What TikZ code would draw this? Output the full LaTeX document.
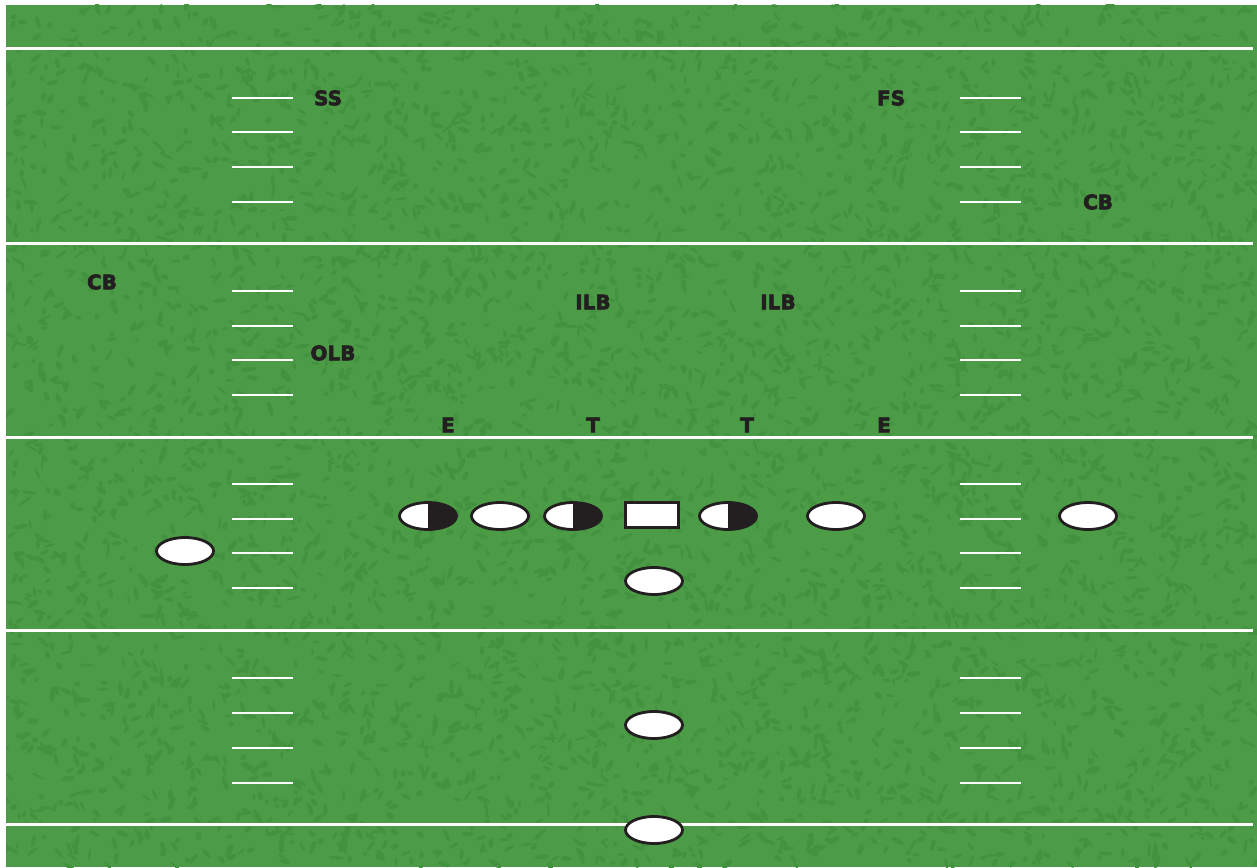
\documentclass[tikz,border=0pt]{standalone}
\usepackage{fontspec}
\setmainfont{DejaVu Sans}
\newfontfamily\heavy[FakeBold=3]{DejaVu Sans Bold}
\usetikzlibrary{shapes.geometric}
\definecolor{Turf}{HTML}{4B9B47}
\definecolor{TurfDark}{HTML}{43923F}
\definecolor{Ink}{HTML}{231F20}
\definecolor{Chalk}{HTML}{FFFFFF}
\tikzset{
  yard/.style={draw=Chalk,line width=3pt},
  hash/.style={draw=Chalk,line width=1.6pt},
  slot/.style={font=\heavy\fontsize{20}{24}\selectfont,text=Ink,inner sep=0pt},
  man/.style={ellipse,draw=Ink,fill=white,line width=2.8pt,minimum width=57pt,minimum height=27pt,inner sep=0pt},
  dman/.style={man,path picture={\fill[Ink] (path picture bounding box.north) rectangle (path picture bounding box.south east);}},
  snap/.style={rectangle,draw=Ink,fill=white,line width=2.8pt,minimum width=53pt,minimum height=25pt,inner sep=0pt},
}
\begin{document}
\begin{tikzpicture}[x=1pt,y=-1pt]
\useasboundingbox (0,0) rectangle (1257,867);
% -turf-
\fill[Turf] (6,5) rectangle (1257,867);
\begin{scope}
\clip (6,5) rectangle (1257,867);
\pgfmathsetseed{731}
\foreach \i in {1,...,5200}{
  \pgfmathsetmacro{\bx}{6+1251*rnd}
  \pgfmathsetmacro{\by}{5+862*rnd}
  \pgfmathsetmacro{\ra}{2.5+5*rnd}
  \pgfmathsetmacro{\rb}{1.2+1.6*rnd}
  \pgfmathsetmacro{\rt}{360*rnd}
  \fill[TurfDark,rotate around={\rt:(\bx,\by)}] (\bx,\by) ellipse[x radius=\ra,y radius=\rb];
}
\end{scope}
% -lines-
\foreach \y in {49,243,437,630,824}{\draw[yard] (6,\y) -- (1253,\y);}
\foreach \y in {98,132,167,202,291,326,360,395,484,519,553,588,678,713,748,783}{
  \draw[hash] (232,\y) -- (293,\y);
  \draw[hash] (960,\y) -- (1021,\y);
}
% -defense-
\node[slot] (ss) at (328,98) {SS};
\node[slot] (fs) at (891,98) {FS};
\node[slot] (cbr) at (1098,202) {CB};
\node[slot] (cbl) at (102,282) {CB};
\node[slot] (ilbl) at (593,302) {ILB};
\node[slot] (ilbr) at (778,302) {ILB};
\node[slot] (olb) at (333,353) {OLB};
\node[slot] (el) at (448,425) {E};
\node[slot] (tl) at (593,425) {T};
\node[slot] (tr) at (747,425) {T};
\node[slot] (er) at (884,425) {E};
% -offense-
\node[dman] (lt) at (428,516) {};
\node[man] (lg) at (500,516) {};
\node[dman] (lg2) at (573,516) {};
\node[snap] (c) at (652,515) {};
\node[dman] (rg) at (728,516) {};
\node[man] (te) at (836,516) {};
\node[man] (wr) at (1088,516) {};
\node[man] (se) at (185,551) {};
\node[man] (qb) at (654,581) {};
\node[man] (fb) at (654,725) {};
\node[man] (rb) at (654,830) {};
\end{tikzpicture}
\end{document}
